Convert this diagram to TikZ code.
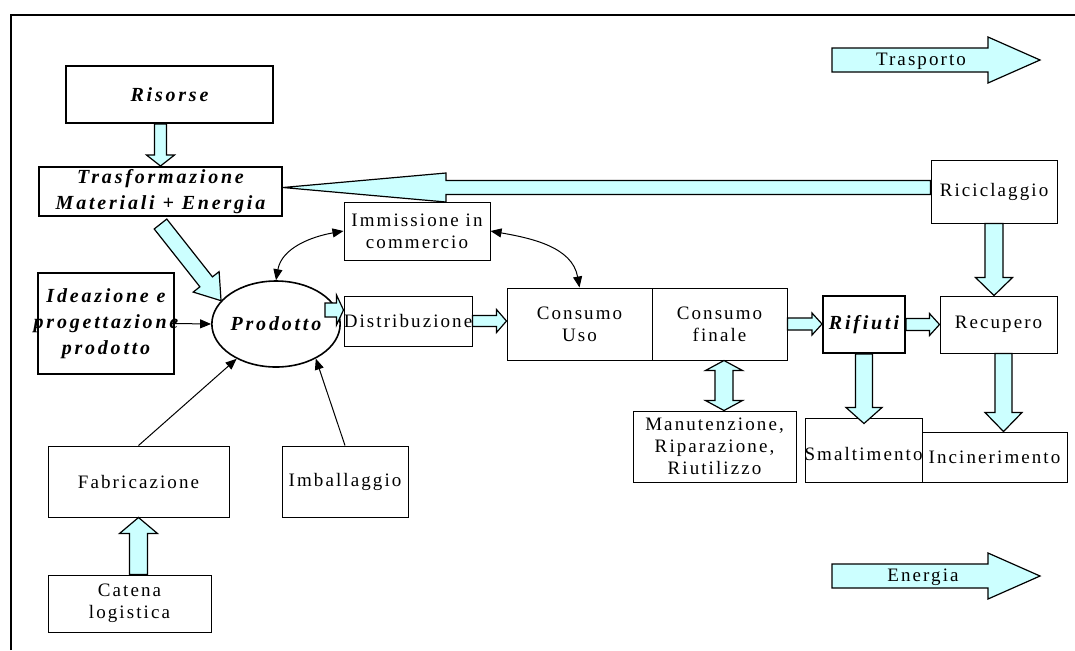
\documentclass[tikz,border=0pt]{standalone}
\usepackage{fontspec}
\setmainfont{Liberation Serif}[LetterSpace=11]
\newfontfamily\bifont{Liberation Serif}[LetterSpace=14]
\usepackage{xcolor}
\definecolor{paleaqua}{RGB}{204,255,255}
\usepackage{tikz}
\usetikzlibrary{arrows.meta,calc,shapes.geometric}
\newdimen\pxu \pxu=0.5pt
\tikzset{
  box/.style={draw,line width=0.5pt,inner sep=0pt,align=center},
  thickbox/.style={line width=1pt},
  sz/.style 2 args={minimum width=#1*\pxu,minimum height=#2*\pxu},
  bitext/.style={font=\bifont\bfseries\itshape\fontsize{10}{13}\selectfont,align=center},
  fatarr/.style={draw=black,fill=paleaqua,line width=0.6pt,line join=miter},
  thinarr/.style={-{Triangle[length=5.5pt,width=4.5pt]},line width=0.5pt},
  thinarrs/.style={{Triangle[length=5.5pt,width=4.5pt]}-{Triangle[length=5.5pt,width=4.5pt]},line width=0.5pt},
  frame/.style={line width=1pt},
}
% freccia piena: #1 da, #2 a, #3 mezza asta, #4 mezza punta, #5 lunghezza punta
\newcommand{\fatarrow}[5]{%
  \coordinate (hb) at ($(#2)!#5*\pxu!(#1)$);
  \draw[fatarr] ($(#1)!#3*\pxu!90:(#2)$) -- ($(hb)!#3*\pxu!-90:(#1)$)
    -- ($(hb)!#4*\pxu!-90:(#1)$) -- (#2) -- ($(hb)!#4*\pxu!90:(#1)$)
    -- ($(hb)!#3*\pxu!90:(#1)$) -- ($(#1)!#3*\pxu!-90:(#2)$) -- cycle;
}
% freccia piena a due punte
\newcommand{\fatarrows}[5]{%
  \coordinate (ha) at ($(#1)!#5*\pxu!(#2)$);
  \coordinate (hb) at ($(#2)!#5*\pxu!(#1)$);
  \draw[fatarr] (#1) -- ($(ha)!#4*\pxu!90:(#2)$) -- ($(ha)!#3*\pxu!90:(#2)$)
    -- ($(hb)!#3*\pxu!-90:(#1)$) -- ($(hb)!#4*\pxu!-90:(#1)$) -- (#2)
    -- ($(hb)!#4*\pxu!90:(#1)$) -- ($(hb)!#3*\pxu!90:(#1)$)
    -- ($(ha)!#3*\pxu!-90:(#2)$) -- ($(ha)!#4*\pxu!-90:(#2)$) -- cycle;
}

\begin{document}
\begin{tikzpicture}[x=0.5pt,y=-0.5pt,font=\fontsize{9.5}{11}\selectfont]
  \useasboundingbox (0,0) rectangle (1075,650);
  \draw[frame] (11,650) |- (1075,15);
  % blocchi
  \node[box,thickbox,sz={207}{57},bitext] (ris) at (169.5,94.5) {Risorse};
  \node[box,thickbox,sz={243}{49},bitext] (tra) at (160.5,191.5) {Trasformazione\\Materiali + Energia};
  \node[box,sz={126}{63}] (ric) at (994,191.5) {Riciclaggio};
  \node[box,sz={146}{58}] (imm) at (417,231) {Immissione in\\commercio};
  \node[box,thickbox,sz={136}{101},label={[bitext]center:Ideazione e\\progettazione\\prodotto}] (ide) at (106,323.5) {};
  \node[ellipse,draw,line width=0.8pt,inner sep=0pt,sz={116}{86},bitext] (pro) at (276,324) {Prodotto};
  \node[box,sz={128}{50},label={center:Distribuzione}] (dis) at (408,321) {};
  \node[box,sz={145}{72}] (cus) at (579.5,324) {Consumo\\Uso};
  \node[box,sz={135}{72}] (cfi) at (719.5,324) {Consumo\\finale};
  \node[box,thickbox,sz={82}{57},bitext] (rif) at (864,324.5) {Rifiuti};
  \node[box,sz={117}{57}] (rec) at (998.5,324.5) {Recupero};
  \node[box,sz={163}{71}] (man) at (714.5,446.5) {Manutenzione,\\Riparazione,\\Riutilizzo};
  \node[box,sz={117}{64},label={[yshift=-2pt]center:Smaltimento}] (sma) at (863.5,450) {};
  \node[box,sz={145}{50}] (inc) at (994.5,457) {Incinerimento};
  \node[box,sz={181}{71}] (fab) at (138.5,481.5) {Fabricazione};
  \node[box,sz={126}{71}] (imb) at (345,481.5) {Imballaggio};
  \node[box,sz={163}{57}] (cat) at (129.5,603.5) {Catena\\logistica};
  % frecce sottili
  \draw[thinarr] (ide.east) -- (pro.west);
  \draw[thinarr] (fab.north) -- (pro);
  \draw[thinarr] (imb.north) -- (pro.-41);
  \draw[thinarrs] (imm.west) to[out=190,in=80] (pro.north);
  \draw[thinarrs] (imm.east) to[out=-10,in=100] (cus.north);
  % frecce piene
  \coordinate (c1) at (ris.south -| tra.north);
  \fatarrow{c1}{tra.north}{6}{14}{11}
  \coordinate (c2) at ($(ric.west)+(0,-4)$);
  \coordinate (c3) at ($(tra.east)+(0,-4)$);
  \fatarrow{c2}{c3}{7}{14.5}{163}
  \coordinate (c4) at ($(tra.south)+(0,7)$);
  \fatarrow{c4}{pro.157}{8}{16.5}{24}
  \coordinate (c5) at ($(pro.east)+(-16,-14)$);
  \coordinate (c6) at (c5 -| dis.west);
  \fatarrow{c5}{c6}{7}{15}{7}
  \coordinate (c7) at (dis.east -| cus.west);
  \fatarrow{dis.east}{c7}{5.5}{11.5}{10}
  \coordinate (c8) at (cfi.east -| rif.west);
  \fatarrow{cfi.east}{c8}{6}{11}{10}
  \coordinate (c9) at (rif.east -| rec.west);
  \fatarrow{rif.east}{c9}{6}{11}{10}
  \coordinate (c10) at ($(cfi.south)+(4.5,0)$);
  \coordinate (c11) at (c10 |- man.north);
  \fatarrows{c10}{c11}{9}{18.5}{10}
  \coordinate (c12) at (ric.south |- rec.north);
  \fatarrow{ric.south}{c12}{9}{18.5}{18}
  \coordinate (c13) at ($(rif.south |- sma.north)+(0,6)$);
  \fatarrow{rif.south}{c13}{8.5}{18}{16}
  \coordinate (c14) at ($(rec.south)+(5,0)$);
  \coordinate (c15) at (c14 |- inc.north);
  \fatarrow{c14}{c15}{8.5}{18.5}{19}
  \coordinate (c16) at (cat.north -| fab.south);
  \fatarrow{c16}{fab.south}{9}{19}{16}
  % legenda
  \coordinate (tp1) at (832,60);
  \coordinate (tp2) at (1040,60);
  \fatarrow{tp1}{tp2}{12}{23}{52}
  \node (trasp) at (921,61) {Trasporto};
  \coordinate (en1) at (832,576);
  \coordinate (en2) at (1040,576);
  \fatarrow{en1}{en2}{12}{23}{52}
  \node (energ) at (923,577) {Energia};
\end{tikzpicture}
\end{document}
